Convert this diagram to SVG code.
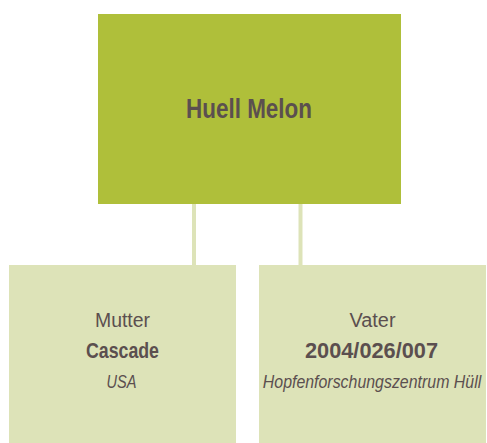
<svg xmlns="http://www.w3.org/2000/svg" width="487" height="443" viewBox="0 0 487 443">
  <style>
    .t { font-family: "Liberation Sans", Arial, sans-serif; fill: #5B4F4F; text-anchor: middle; }
    .b { font-weight: bold; }
    .i { font-style: italic; }
    .conn { stroke: #DDE3B8; stroke-width: 4; fill: none; }
  </style>
  <rect width="487" height="443" fill="#FFFFFF"/>
  <g id="connectors">
    <line class="conn" x1="194" y1="204" x2="194" y2="265"/>
    <line class="conn" x1="300.5" y1="204" x2="300.5" y2="265"/>
  </g>
  <g id="node-huell-melon">
    <rect x="98" y="14" width="303" height="190" fill="#AFBF3A"/>
    <text class="t b" x="249" y="118" font-size="27" textLength="126" lengthAdjust="spacingAndGlyphs">Huell Melon</text>
  </g>
  <g id="node-mutter">
    <rect x="9" y="265" width="227" height="178" fill="#DDE3B8"/>
    <text class="t" x="122.5" y="327" font-size="20" textLength="55" lengthAdjust="spacingAndGlyphs">Mutter</text>
    <text class="t b" x="122.5" y="358" font-size="22" textLength="73" lengthAdjust="spacingAndGlyphs">Cascade</text>
    <text class="t i" x="121.5" y="387.5" font-size="19" textLength="30" lengthAdjust="spacingAndGlyphs">USA</text>
  </g>
  <g id="node-vater">
    <rect x="259" y="265" width="227" height="178" fill="#DDE3B8"/>
    <text class="t" x="372.5" y="327" font-size="20" textLength="46" lengthAdjust="spacingAndGlyphs">Vater</text>
    <text class="t b" x="371.5" y="358" font-size="22" textLength="133" lengthAdjust="spacingAndGlyphs">2004/026/007</text>
    <g transform="translate(372 387.5) scale(0.86 1)">
      <text class="t i" x="0" y="0" font-size="18.5">Hopfenforschungszentrum Hüll</text>
    </g>
  </g>
</svg>
